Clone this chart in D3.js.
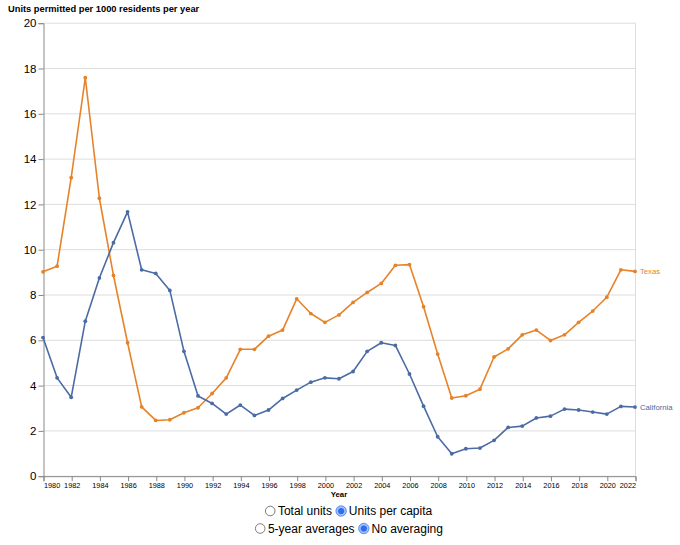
<!DOCTYPE html>
<html>
<head>
<meta charset="utf-8">
<script src="https://cdn.jsdelivr.net/npm/d3@7"></script>
<style>
  html, body { margin: 0; padding: 0; background: #fff; }
  svg { display: block; font-family: "Liberation Sans", Arial, Helvetica, sans-serif; }
</style>
</head>
<body>
<svg id="chart" width="680" height="545"></svg>
<script>
const years = d3.range(1980, 2023);
const california = [6.1, 4.32, 3.46, 6.82, 8.73, 10.29, 11.65, 9.09, 8.93, 8.18,
  5.49, 3.52, 3.19, 2.72, 3.12, 2.66, 2.9, 3.41, 3.78, 4.13,
  4.32, 4.28, 4.6, 5.49, 5.87, 5.75, 4.49, 3.07, 1.72, 0.97,
  1.19, 1.22, 1.56, 2.13, 2.19, 2.55, 2.63, 2.94, 2.9, 2.81,
  2.72, 3.06, 3.03];
const texas = [9.0, 9.25, 13.16, 17.57, 12.25, 8.84, 5.87, 3.04, 2.44, 2.47,
  2.78, 3.0, 3.63, 4.32, 5.58, 5.58, 6.16, 6.43, 7.81, 7.16,
  6.77, 7.1, 7.65, 8.09, 8.49, 9.29, 9.32, 7.46, 5.37, 3.43,
  3.53, 3.82, 5.24, 5.6, 6.22, 6.43, 5.97, 6.22, 6.77, 7.27,
  7.88, 9.09, 9.02];
const seriesNames = ["Texas", "California"];
const yTicks = d3.range(0, 21, 2);
const xTicks = d3.range(1980, 2023, 2);
const yTitle = "Units permitted per 1000 residents per year";
const xTitle = "Year";
const controls = [
  [{label: "Total units", checked: false}, {label: "Units per capita", checked: true}],
  [{label: "5-year averages", checked: false}, {label: "No averaging", checked: true}]
];

const colors = {Texas: "#e6832a", California: "#4b6ba4"};
const series = [
  {name: "Texas", values: texas},
  {name: "California", values: california}
];

const svg = d3.select("#chart");
const mLeft = 43, mRight = 635, mTop = 22.7, mBottom = 475.7;

const x = d3.scaleLinear().domain([1980, 2022]).range([mLeft, mRight]);
const y = d3.scaleLinear().domain([0, 20]).range([mBottom, mTop]);

// grid
svg.append("g").selectAll("line").data(yTicks).join("line")
  .attr("x1", mLeft).attr("x2", mRight)
  .attr("y1", d => y(d) + 0.5).attr("y2", d => y(d) + 0.5)
  .attr("stroke", "#ddd").attr("stroke-width", 1);
// view right edge
svg.append("line").attr("x1", mRight + 0.5).attr("x2", mRight + 0.5)
  .attr("y1", mTop).attr("y2", mBottom).attr("stroke", "#ddd");

// y axis
const yAxis = svg.append("g").attr("transform", `translate(${mLeft + 0.5},0.5)`)
  .call(d3.axisLeft(y).tickValues(yTicks).tickSize(5).tickPadding(2).tickFormat(d3.format("d")));
yAxis.select(".domain").attr("stroke", "#888");
yAxis.selectAll(".tick line").attr("stroke", "#888");
yAxis.selectAll(".tick text").attr("font-size", "11.5px").attr("fill", "#000")
  .attr("font-family", "Liberation Sans, Arial, sans-serif");

// x axis
const xAxis = svg.append("g").attr("transform", `translate(0.5,${mBottom + 0.5})`)
  .call(d3.axisBottom(x).tickValues(xTicks).tickSize(5).tickPadding(2).tickFormat(d3.format("d")));
xAxis.select(".domain").attr("stroke", "#888");
xAxis.selectAll(".tick line").attr("stroke", "#888");
xAxis.selectAll(".tick text").attr("font-size", "7.3px").attr("fill", "#000")
  .attr("font-family", "Liberation Sans, Arial, sans-serif")
  .attr("text-anchor", d => d === 1980 ? "start" : (d === 2022 ? "end" : "middle"));

// titles
svg.append("text").attr("x", 8).attr("y", 12).attr("font-size", "9.3px")
  .attr("font-weight", "bold").attr("fill", "#000").text(yTitle);
svg.append("text").attr("x", (mLeft + mRight) / 2).attr("y", 497).attr("text-anchor", "middle")
  .attr("font-size", "7.8px").attr("font-weight", "bold").attr("fill", "#000").text(xTitle);

// lines
const line = d3.line().x((d, i) => x(years[i])).y(d => y(d));
const g = svg.append("g");
series.forEach(s => {
  g.append("path").datum(s.values).attr("d", line)
    .attr("fill", "none").attr("stroke", colors[s.name]).attr("stroke-width", 1.6)
    .attr("stroke-linejoin", "round");
  g.append("g").selectAll("circle").data(s.values).join("circle")
    .attr("cx", (d, i) => x(years[i])).attr("cy", d => y(d)).attr("r", 1.9)
    .attr("fill", colors[s.name]);
  const last = s.values[s.values.length - 1];
  g.append("text").attr("x", x(2022) + 5).attr("y", y(last)).attr("dy", "0.35em")
    .attr("font-size", "7.7px").attr("fill", colors[s.name]).text(s.name);
});

// controls (radio buttons)
const rowY = [511, 528.5];
const rowStart = [265, 255];
const ctrl = svg.append("g").attr("font-size", "12px").attr("fill", "#000");
controls.forEach((row, ri) => {
  let cx = rowStart[ri];
  row.forEach(opt => {
    const r = 5.2;
    const ccx = cx + r;
    if (opt.checked) {
      ctrl.append("circle").attr("cx", ccx).attr("cy", rowY[ri]).attr("r", r)
        .attr("fill", "#a6c1f7").attr("stroke", "#3f7cf2").attr("stroke-width", 0.8);
      ctrl.append("circle").attr("cx", ccx).attr("cy", rowY[ri]).attr("r", 3.1)
        .attr("fill", "#2f6cf0");
    } else {
      ctrl.append("circle").attr("cx", ccx).attr("cy", rowY[ri]).attr("r", r - 0.4)
        .attr("fill", "#fff").attr("stroke", "#6f6f6f").attr("stroke-width", 0.9);
    }
    const t = ctrl.append("text").attr("x", cx + 2 * r + 2.5).attr("y", rowY[ri] + 4.3).text(opt.label);
    const w = t.node().getComputedTextLength();
    cx = cx + 2 * r + 2.5 + w + 4;
  });
});
</script>
</body>
</html>
